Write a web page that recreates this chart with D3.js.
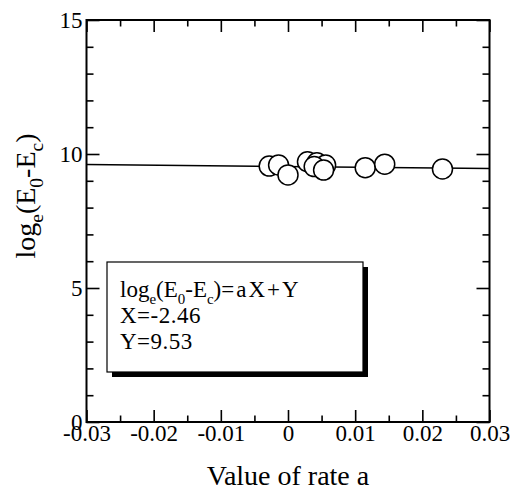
<!DOCTYPE html>
<html lang="en">
<head>
    <meta charset="UTF-8">
    <title>log plot</title>
    <script src="https://cdn.jsdelivr.net/npm/d3@7"></script>
    <style>
        body { margin: 0; background: #fff; }
        text { font-family: "Liberation Serif", "Times New Roman", serif; }
    </style>
</head>
<body>
<script>
    // data
    var rateA    = [-0.0028, -0.0014, 0.0000, 0.0029, 0.0043, 0.0056, 0.0039, 0.0053, 0.0115, 0.0144, 0.0230]
    var logDiff  = [9.55, 9.59, 9.22, 9.71, 9.67, 9.59, 9.53, 9.40, 9.49, 9.62, 9.44]
    var fitX = -2.46   // slope
    var fitY = 9.53    // intercept

    var xMajor = [-0.03, -0.02, -0.01, 0, 0.01, 0.02, 0.03]
    var xLabels = ['-0.03', '-0.02', '-0.01', '0', '0.01', '0.02', '0.03']
    var xMinor = [-0.025, -0.015, -0.005, 0.005, 0.015, 0.025]
    var yMajor = [0, 5, 10, 15]
    var yMinor = [1, 2, 3, 4, 6, 7, 8, 9, 11, 12, 13, 14]

    var width = 515
    var height = 492
    var pLeft = 86.5, pRight = 489.5, pTop = 20, pBottom = 422

    var svg = d3.select('body')
        .append('svg')
        .attr('width', width)
        .attr('height', height)

    var x = d3.scaleLinear().domain([-0.03, 0.03]).range([pLeft, pRight])
    var y = d3.scaleLinear().domain([0, 15]).range([pBottom, pTop])

    // axes, ticks pointing inward on all sides
    function styleAxis(g) {
        g.select('.domain').remove()
        g.selectAll('line').attr('stroke', '#000').attr('stroke-width', 1.6)
        g.selectAll('text').attr('fill', '#000').style('font-size', '23px')
            .style('font-family', '"Liberation Serif", serif')
    }

    var xFmt = function (d) { return xLabels[xMajor.indexOf(d)] }

    svg.append('g').attr('transform', 'translate(0,' + pBottom + ')')
        .call(d3.axisBottom(x).tickValues(xMajor).tickFormat(xFmt).tickSize(-12).tickPadding(3))
        .call(styleAxis)
    svg.append('g').attr('transform', 'translate(0,' + pBottom + ')')
        .call(d3.axisBottom(x).tickValues(xMinor).tickFormat('').tickSize(-6.5))
        .call(styleAxis)
    svg.append('g').attr('transform', 'translate(0,' + pTop + ')')
        .call(d3.axisTop(x).tickValues(xMajor).tickFormat('').tickSize(-12))
        .call(styleAxis)
    svg.append('g').attr('transform', 'translate(0,' + pTop + ')')
        .call(d3.axisTop(x).tickValues(xMinor).tickFormat('').tickSize(-6.5))
        .call(styleAxis)

    svg.append('g').attr('transform', 'translate(' + pLeft + ',0)')
        .call(d3.axisLeft(y).tickValues(yMajor).tickFormat(d3.format('d')).tickSize(-13).tickPadding(4))
        .call(styleAxis)
    svg.append('g').attr('transform', 'translate(' + pLeft + ',0)')
        .call(d3.axisLeft(y).tickValues(yMinor).tickFormat('').tickSize(-7))
        .call(styleAxis)
    svg.append('g').attr('transform', 'translate(' + pRight + ',0)')
        .call(d3.axisRight(y).tickValues(yMajor).tickFormat('').tickSize(-13))
        .call(styleAxis)
    svg.append('g').attr('transform', 'translate(' + pRight + ',0)')
        .call(d3.axisRight(y).tickValues(yMinor).tickFormat('').tickSize(-7))
        .call(styleAxis)

    // frame
    svg.append('rect')
        .attr('x', pLeft).attr('y', pTop)
        .attr('width', pRight - pLeft).attr('height', pBottom - pTop)
        .attr('fill', 'none').attr('stroke', '#000').attr('stroke-width', 2)

    // fit line
    var line = d3.line()
        .x(function (d) { return x(d) })
        .y(function (d) { return y(fitX * d + fitY) })
    svg.append('path')
        .datum(x.domain())
        .attr('d', line)
        .attr('fill', 'none')
        .attr('stroke', '#000')
        .attr('stroke-width', 1.5)

    // points
    svg.selectAll('circle.pt')
        .data(rateA)
        .enter()
        .append('circle')
        .attr('class', 'pt')
        .attr('cx', function (d) { return x(d) })
        .attr('cy', function (d, i) { return y(logDiff[i]) })
        .attr('r', 10)
        .attr('fill', '#fff')
        .attr('stroke', '#000')
        .attr('stroke-width', 1.5)

    // legend box with shadow
    var bx = 107, by = 262, bw = 256, bh = 110
    svg.append('rect').attr('x', bx + 5).attr('y', by + 5).attr('width', bw).attr('height', bh)
        .attr('fill', '#000')
    svg.append('rect').attr('x', bx).attr('y', by).attr('width', bw).attr('height', bh)
        .attr('fill', '#fff').attr('stroke', '#000').attr('stroke-width', 1.2)

    function logLabel(t, size, k) {
        var s = size * k + 'px', d = size * 0.3
        t.append('tspan').text('log')
        t.append('tspan').attr('dy', d).style('font-size', s).text('e')
        t.append('tspan').attr('dy', -d).text('(E')
        t.append('tspan').attr('dy', d).style('font-size', s).text('0')
        t.append('tspan').attr('dy', -d).text('-E')
        t.append('tspan').attr('dy', d).style('font-size', s).text('c')
        t.append('tspan').attr('dy', -d).text(')')
    }

    var lt = svg.append('text').attr('x', 120).attr('y', 297).style('font-size', '23px')
    logLabel(lt, 23, 0.65)
    lt.append('tspan').style('letter-spacing', '2px').text('=aX+Y')
    svg.append('text').attr('x', 120).attr('y', 322.5).style('font-size', '23px')
        .style('letter-spacing', '0.5px').text('X=' + fitX.toFixed(2))
    svg.append('text').attr('x', 120).attr('y', 348.5).style('font-size', '23px')
        .style('letter-spacing', '0.5px').text('Y=' + fitY.toFixed(2))

    // axis titles
    svg.append('text')
        .attr('x', (pLeft + pRight) / 2).attr('y', 485)
        .attr('text-anchor', 'middle')
        .style('font-size', '28px')
        .text('Value of rate a')

    var yt = svg.append('text')
        .attr('transform', 'translate(35,196) rotate(-90)')
        .attr('text-anchor', 'middle')
        .style('font-size', '28px')
    logLabel(yt, 28, 0.7)
</script>
</body>
</html>
